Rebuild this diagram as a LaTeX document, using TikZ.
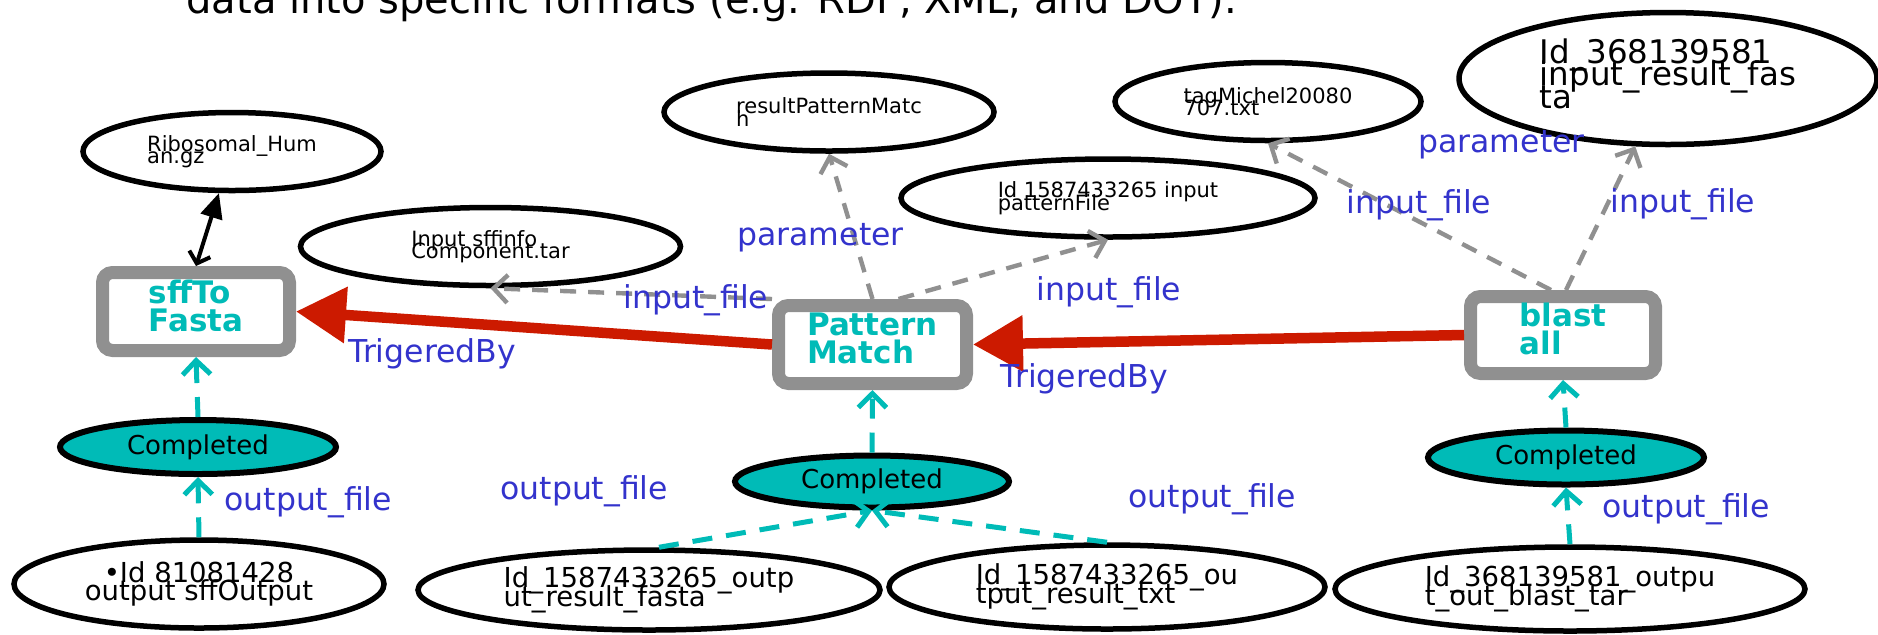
\documentclass[tikz,border=0pt]{standalone}
\usepackage{fontspec}
\setmainfont{DejaVu Sans}
\usetikzlibrary{shapes.geometric,arrows.meta}

\definecolor{tealfill}{RGB}{0,187,183}
\definecolor{edgeblue}{RGB}{51,51,204}
\definecolor{trigred}{RGB}{204,26,0}
\definecolor{boxgray}{RGB}{144,144,144}

% let lines of a node overlap when the baseline skip is tight
\newcommand\tightlines{\lineskiplimit=-\maxdimen}

\tikzset{
  fileell/.style={ellipse, draw=black, line width=2.75pt, fill=white, inner sep=0pt, align=left},
  smallell/.style={fileell, font=\fontsize{10.5}{6.25}\selectfont\tightlines},
  midell/.style={fileell, font=\fontsize{13.75}{9.25}\selectfont\tightlines},
  bigell/.style={fileell, font=\fontsize{16.25}{11.25}\selectfont\tightlines},
  doneell/.style={ellipse, draw=black, line width=3pt, fill=tealfill, inner sep=0pt,
    minimum width=138pt, minimum height=27pt, font=\fontsize{13}{15}\selectfont},
  procbox/.style={rectangle, rounded corners=5pt, draw=boxgray, line width=6.5pt, fill=white,
    text=tealfill, inner sep=0pt, align=left, text depth=6pt,
    font=\bfseries\fontsize{15.5}{14}\selectfont\tightlines},
  elabel/.style={anchor=base west, inner sep=0pt, text=edgeblue, font=\fontsize{15.75}{18}\selectfont},
  inarr/.style={draw=boxgray, line width=2.2pt, dash pattern=on 8pt off 6pt,
    -{Straight Barb[length=7pt,width=14pt]}},
  outarr/.style={draw=tealfill, line width=2.5pt, dash pattern=on 10pt off 7pt,
    -{Straight Barb[length=7pt,width=14pt]}},
  trig/.style={draw=trigred, line width=5.25pt, -{Triangle[length=25pt,width=27pt]}},
  linkarr/.style={draw=black, line width=2pt,
    {Straight Barb[length=5pt,width=11pt]}-{Triangle[length=12.5pt,width=11pt]}},
}

\begin{document}
\begin{tikzpicture}[x=0.5pt, y=-0.5pt]
\useasboundingbox (0,0) rectangle (1878,634);

% heading line from the surrounding text
\node[anchor=base west, inner sep=0pt, font=\fontsize{20}{24}\selectfont] (heading) at (186,13)
  {data into specific formats (e.g. RDF, XML, and DOT).};

% processes
\node[procbox, minimum width=93.5pt, minimum height=39pt] (sff) at (196,311.5) {sffTo\\Fasta};
\node[procbox, minimum width=94pt, minimum height=39pt] (pm) at (872.5,344.5) {Pattern\\Match};
\node[procbox, minimum width=92.5pt, minimum height=38.5pt] (blast) at (1563,335) {blast\\all};

% data files
\node[smallell, minimum width=149pt, minimum height=39pt] (rib) at (232,151.5) {Ribosomal\_Hum\\an.gz};
\node[smallell, minimum width=190pt, minimum height=39pt] (sffinfo) at (490.5,246.5) {Input sffinfo\\Component.tar};
\node[smallell, minimum width=165pt, minimum height=39pt] (rpm) at (829,112) {resultPatternMatc\\h};
\node[smallell, minimum width=207pt, minimum height=39pt] (pf) at (1108,198) {Id 1587433265 input\\patternFile};
\node[smallell, minimum width=153pt, minimum height=39pt] (tag) at (1268,101.5) {tagMichel20080\\707.txt};
\node[bigell, text depth=5pt, minimum width=209pt, minimum height=66pt] (inres) at (1668,78.5) {Id\_368139581\\input\_result\_fas\\ta};

\node[midell, align=center, minimum width=185pt, minimum height=44pt] (idl) at (199,584) {•Id 81081428\\output sffOutput};
\node[midell, minimum width=231pt, minimum height=40pt] (of) at (649,590) {Id\_1587433265\_outp\\ut\_result\_fasta};
\node[midell, minimum width=218pt, minimum height=42pt] (ot) at (1107,587) {Id\_1587433265\_ou\\tput\_result\_txt};
\node[midell, minimum width=235pt, minimum height=42pt] (ob) at (1570,589) {Id\_368139581\_outpu\\t\_out\_blast\_tar};

% states
\node[doneell] (cl) at (198,447) {Completed};
\node[doneell, minimum width=137pt, minimum height=26pt] (cm) at (872,481.5) {Completed};
\node[doneell] (cr) at (1566,457.5) {Completed};

% connectors
\draw[linkarr] (sff.north) -- (rib);

\draw[trig] (pm.west) -- (sff.east);
\draw[trig] (blast.west) -- (pm.east);

\draw[inarr] (pm.north west) -- (sffinfo.south);
\draw[inarr] (pm.north) -- (rpm.south);
\draw[inarr] ([xshift=13pt]pm.north) -- (pf.south);
\draw[inarr] ([xshift=-6pt]blast.north) -- (tag.south);
\draw[inarr] ([xshift=1.5pt]blast.north) -- (inres);

\draw[outarr] (cl.north) -- (sff.south);
\draw[outarr] (idl.north) -- (cl.south);
\draw[outarr] ([xshift=5pt]of.north) -- (cm.south);
\draw[outarr] (ot.north) -- (cm.south);
\draw[outarr] (cm.north) -- (pm.south);
\draw[outarr] (cr.north) -- (blast.south);
\draw[outarr] (ob.north) -- (cr.south);

% connector labels
\node[elabel] (lpar1) at (737,245) {parameter};
\node[elabel] (lin1) at (623,308) {input\_file};
\node[elabel] (ltrig1) at (348,362) {TrigeredBy};
\node[elabel] (lin2) at (1036,300) {input\_file};
\node[elabel] (ltrig2) at (1000,387) {TrigeredBy};
\node[elabel] (lpar2) at (1418,152) {parameter};
\node[elabel] (lin3) at (1346,213) {input\_file};
\node[elabel] (lin4) at (1610,212) {input\_file};
\node[elabel] (lout1) at (224,510) {output\_file};
\node[elabel] (lout2) at (500,499) {output\_file};
\node[elabel] (lout3) at (1128,507) {output\_file};
\node[elabel] (lout4) at (1602,517) {output\_file};
\end{tikzpicture}
\end{document}
